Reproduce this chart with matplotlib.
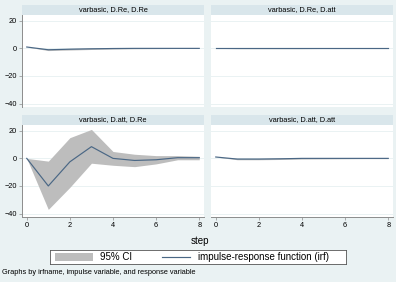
import numpy as np
import matplotlib
matplotlib.use("Agg")
from matplotlib import pyplot as plt

plt.rcParams['font.family'] = ['Liberation Sans', 'DejaVu Sans']

steps = [0, 1, 2, 3, 4, 5, 6, 7, 8]
titles = ["varbasic, D.Re, D.Re", "varbasic, D.Re, D.att",
          "varbasic, D.att, D.Re", "varbasic, D.att, D.att"]

irf_re_re = [1.0, -1.0, -0.6, -0.3, -0.1, 0.0, 0.0, 0.0, 0.0]
lo_re_re = [1.0, -1.6, -1.2, -0.8, -0.5, -0.3, -0.2, -0.1, -0.1]
hi_re_re = [1.0, -0.4, 0.0, 0.2, 0.3, 0.3, 0.2, 0.1, 0.1]

irf_re_att = [0.0, 0.0, 0.0, 0.0, 0.0, 0.0, 0.0, 0.0, 0.0]
lo_re_att = [0.0, -0.2, -0.2, -0.2, -0.2, -0.1, -0.1, -0.1, -0.1]
hi_re_att = [0.0, 0.2, 0.2, 0.2, 0.2, 0.1, 0.1, 0.1, 0.1]

irf_att_re = [0.0, -20.0, -2.5, 8.5, 0.0, -1.5, -1.0, 0.5, 0.5]
lo_att_re = [0.0, -37.0, -21.0, -3.5, -5.0, -6.0, -4.0, -1.0, -1.0]
hi_att_re = [0.0, -2.0, 15.0, 21.0, 5.0, 3.0, 2.0, 2.0, 1.5]

irf_att_att = [1.0, -0.5, -0.5, -0.3, 0.0, 0.0, 0.0, 0.0, 0.0]
lo_att_att = [1.0, -1.0, -1.0, -0.8, -0.5, -0.4, -0.3, -0.2, -0.2]
hi_att_att = [1.0, 0.0, 0.0, 0.2, 0.4, 0.4, 0.3, 0.2, 0.2]

series = [(irf_re_re, lo_re_re, hi_re_re), (irf_re_att, lo_re_att, hi_re_att),
          (irf_att_re, lo_att_re, hi_att_re), (irf_att_att, lo_att_att, hi_att_att)]

W, H = 396, 282
bg = "#eaf2f3"
strip = "#d9e6eb"
line_c = "#4a6785"
ci_c = "#bdbdbd"

fig = plt.figure(figsize=(W / 100, H / 100), dpi=100, facecolor=bg)


def rect(x0, y0, x1, y1):
    return [x0 / W, 1 - y1 / H, (x1 - x0) / W, (y1 - y0) / H]


cols = [(22, 204), (211, 393)]
rows = [(5, 15, 107), (115, 125, 217)]

for i in range(4):
    r, c = divmod(i, 2)
    x0, x1 = cols[c]
    s0, s1, p1 = rows[r]
    sax = fig.add_axes(rect(x0, s0, x1, s1))
    sax.set_facecolor(strip)
    sax.set_xticks([])
    sax.set_yticks([])
    for sp in sax.spines.values():
        sp.set_visible(False)
    sax.text(0.5, 0.5, titles[i], ha="center", va="center", fontsize=5.3,
             transform=sax.transAxes)

    ax = fig.add_axes(rect(x0, s1, x1, p1))
    ax.set_facecolor("white")
    irf, lo, hi = series[i]
    ax.fill_between(steps, lo, hi, color=ci_c, lw=0)
    ax.plot(steps, irf, color=line_c, lw=0.85)
    ax.set_xlim(-0.22, 8.22)
    ax.set_ylim(-42.5, 24.2)
    ax.set_yticks([-40, -20, 0, 20])
    ax.set_xticks([0, 2, 4, 6, 8])
    ax.grid(axis="y", color=bg, lw=0.7)
    ax.set_axisbelow(True)
    for sp in ["top", "right"]:
        ax.spines[sp].set_visible(False)
    ax.spines["left"].set_color("#8c8c8c")
    ax.spines["bottom"].set_color("#8c8c8c")
    ax.spines["left"].set_linewidth(0.7)
    ax.spines["bottom"].set_linewidth(0.7)
    ax.tick_params(length=2, width=0.5, color="#8c8c8c", labelsize=5.3, pad=1.5)
    if c == 1:
        ax.spines["left"].set_visible(False)
        ax.tick_params(axis="y", left=False, labelleft=False)
    if r == 0:
        ax.spines["bottom"].set_visible(False)
        ax.tick_params(axis="x", bottom=False, labelbottom=False)

fig.text(200 / W, 1 - 241 / H, "step", ha="center", va="center", fontsize=7)

lax = fig.add_axes(rect(50, 250, 346, 264))
lax.set_xlim(0, 296)
lax.set_ylim(0, 14)
lax.set_xticks([])
lax.set_yticks([])
lax.set_facecolor("white")
for sp in lax.spines.values():
    sp.set_color("#555555")
    sp.set_linewidth(0.6)
lax.fill_between([5, 43], 3, 11, color=ci_c, lw=0)
lax.text(50, 7, "95% CI", va="center", fontsize=7)
lax.plot([112, 140], [7, 7], color=line_c, lw=0.85)
lax.text(148, 7, "impulse-response function (irf)", va="center", fontsize=7)

fig.text(2 / W, 1 - 273 / H, "Graphs by irfname, impulse variable, and response variable",
         ha="left", va="center", fontsize=5.3)

fig.savefig("out.png", dpi=100, facecolor=bg)
